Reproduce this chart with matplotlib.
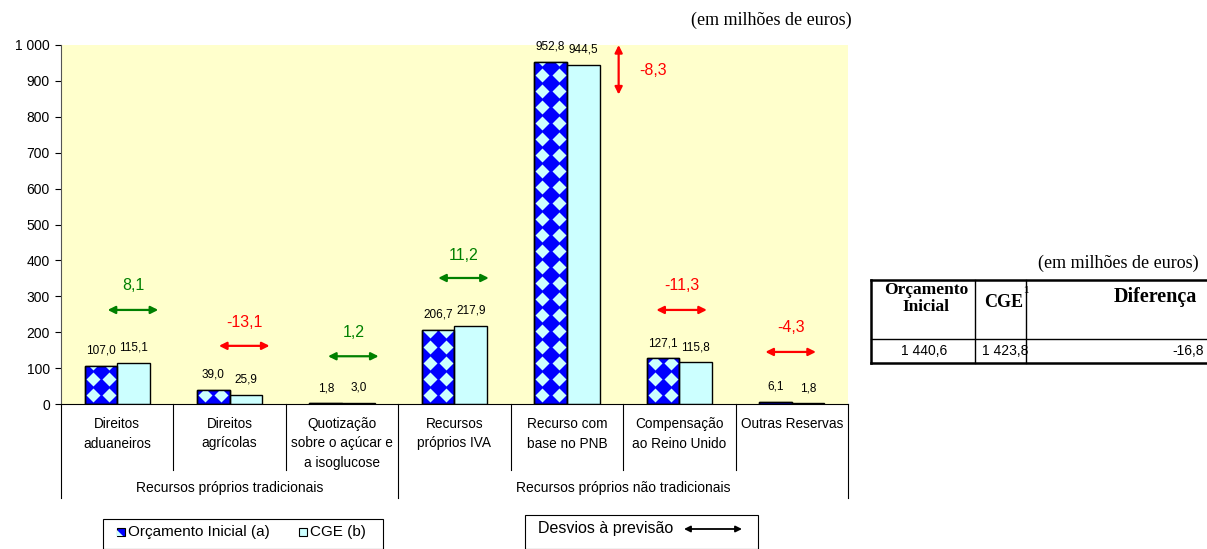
import matplotlib
matplotlib.use("Agg")
import matplotlib.pyplot as plt
import numpy as np
from matplotlib.patches import Rectangle, Polygon, FancyArrowPatch
from matplotlib.lines import Line2D
from matplotlib.transforms import blended_transform_factory

categorias = ["Direitos\naduaneiros", "Direitos\nagrícolas",
              "Quotização\nsobre o açúcar e\na isoglucose",
              "Recursos\npróprios IVA", "Recurso com\nbase no PNB",
              "Compensação\nao Reino Unido", "Outras Reservas"]
grupos = ["Recursos próprios tradicionais", "Recursos próprios não tradicionais"]
grupo_tamanho = [3, 4]
orcamento = [107.0, 39.0, 1.8, 206.7, 952.8, 127.1, 6.1]
cge = [115.1, 25.9, 3.0, 217.9, 944.5, 115.8, 1.8]
totais_cab = ["Orçamento\nInicial", "CGE", "Diferença"]
totais = ["1 440,6", "1 423,8", "-16,8"]
y_ticks = [0, 100, 200, 300, 400, 500, 600, 700, 800, 900, 1000]

# where each deviation arrow sits (y, x offset from category centre, label y)
arrow_y = [262, 162, 133, 351, None, 262, 145]
arrow_dx = [0.14, 0.13, 0.10, 0.08, 0.46, 0.02, -0.01]
label_y = [329, 228, 198, 415, 930, 329, 212]

W, H = 1207, 549
BLUE = "#0000FF"
CYAN = "#CCFFFF"
YELLOW = "#FFFFCC"
GREEN = "#008000"
RED = "#FF0000"
SANS = ["Liberation Sans", "DejaVu Sans"]
SERIF = ["Liberation Serif", "DejaVu Serif"]


def fmt(v):
    return f"{v:.1f}".replace(".", ",")


def px(x, y):
    return x / W, 1 - y / H


fig = plt.figure(figsize=(W / 100, H / 100), dpi=100)
plt.rcParams["font.family"] = SANS
ax = fig.add_axes([61 / W, 1 - 404 / H, (848 - 61) / W, (404 - 45) / H])
ax.set_facecolor(YELLOW)
ax.set_xlim(-0.5, len(categorias) - 0.5)
ax.set_ylim(0, 1000)

x = np.arange(len(categorias))
bw = 0.29
bars_a = ax.bar(x - bw / 2, orcamento, bw, color=BLUE, edgecolor="black", linewidth=1, zorder=2)
bars_b = ax.bar(x + bw / 2, cge, bw, color=CYAN, edgecolor="black", linewidth=1, zorder=2)

# diamond texture on the budget bars
for rect in bars_a:
    x0, w, h = rect.get_x(), rect.get_width(), rect.get_height()
    ys = np.arange(25, h + 45, 44.6)
    for cx in (x0 + 0.25 * w, x0 + 0.75 * w):
        ln, = ax.plot(np.full_like(ys, cx), ys, ls="none", marker="D", ms=7.0,
                      mfc=CYAN, mec="none", zorder=2.5)
        ln.set_clip_path(rect)
    ax.add_patch(Rectangle((x0, 0), w, h, fill=False, edgecolor="black", lw=1, zorder=3))

for i in range(len(categorias)):
    ax.annotate(fmt(orcamento[i]), (x[i] - bw / 2, orcamento[i]), xytext=(0, 11),
                textcoords="offset points", ha="center", va="center", fontsize=8.5)
    ax.annotate(fmt(cge[i]), (x[i] + bw / 2, cge[i]), xytext=(0, 11),
                textcoords="offset points", ha="center", va="center", fontsize=8.5)

# deviation arrows
for i in range(len(categorias)):
    d = round(cge[i] - orcamento[i], 1)
    col = GREEN if d >= 0 else RED
    cx = x[i] + arrow_dx[i]
    if arrow_y[i] is None:
        a = FancyArrowPatch((cx, 1000), (cx, 862), arrowstyle="<|-|>", mutation_scale=11,
                            color=col, lw=1.6, shrinkA=0, shrinkB=0, clip_on=False, zorder=4)
        ax.text(x[i] + 0.77, label_y[i], fmt(d), color=col, fontsize=11.5, ha="center", va="center")
    else:
        a = FancyArrowPatch((cx - 0.225, arrow_y[i]), (cx + 0.225, arrow_y[i]), arrowstyle="<|-|>",
                            mutation_scale=11, color=col, lw=1.6, shrinkA=0, shrinkB=0, zorder=4)
        ax.text(cx, label_y[i], fmt(d), color=col, fontsize=11.5, ha="center", va="center")
    ax.add_patch(a)

for s in ("top", "right"):
    ax.spines[s].set_visible(False)
ax.spines["left"].set_color("#555555")
ax.spines["bottom"].set_color("black")
ax.set_xticks([])
ax.set_yticks(y_ticks)
ax.set_yticklabels([f"{v:,}".replace(",", " ") for v in y_ticks], fontsize=10)
ax.tick_params(axis="y", length=4, width=0.8, pad=4)

# category table under the axis
tr = blended_transform_factory(ax.transData, fig.transFigure)
for b in np.arange(-0.5, len(categorias)):
    bottom = 498 if b in (-0.5, 2.5, 6.5) else 470
    fig.add_artist(Line2D([b, b], [1 - 404 / H, 1 - bottom / H], transform=tr,
                          color="black", lw=0.8))
for i, lab in enumerate(categorias):
    ax.text(x[i], 1 - 417 / H, lab, transform=tr, ha="center", va="top",
            fontsize=9.8, linespacing=1.5)
start = 0
for g, n in zip(grupos, grupo_tamanho):
    ax.text(start - 0.5 + n / 2, 1 - 488 / H, g, transform=tr, ha="center", va="center",
            fontsize=10)
    start += n

# legends
fig.add_artist(Rectangle(px(103, 549), 280 / W, 30 / H, transform=fig.transFigure,
                         fill=False, edgecolor="black", lw=0.8))
sq_x, sq_y = px(117, 536)
fig.add_artist(Rectangle((sq_x, sq_y), 8 / W, 8 / H, transform=fig.transFigure,
                         facecolor=BLUE, edgecolor="black", lw=0.8))
fig.add_artist(Polygon([(sq_x, sq_y), (sq_x + 6 / W, sq_y), (sq_x, sq_y + 6 / H)],
                       transform=fig.transFigure, facecolor=CYAN, edgecolor="none"))
fig.text(*px(128, 532), "Orçamento Inicial (a)", fontsize=11, va="center")
fig.add_artist(Rectangle(px(299, 536), 8 / W, 8 / H, transform=fig.transFigure,
                         facecolor=CYAN, edgecolor="black", lw=0.8))
fig.text(*px(310, 532), "CGE (b)", fontsize=11, va="center")

fig.add_artist(Rectangle(px(525, 549), 233 / W, 34 / H, transform=fig.transFigure,
                         fill=False, edgecolor="black", lw=0.8))
fig.text(*px(538, 529), "Desvios à previsão", fontsize=11.5, va="center")
fig.add_artist(FancyArrowPatch(px(684, 529), px(742, 529), transform=fig.transFigure,
                               arrowstyle="<|-|>", mutation_scale=9, color="black", lw=1.3,
                               shrinkA=0, shrinkB=0))

fig.text(*px(852, 20), "(em milhões de euros)", family=SERIF, fontsize=13, ha="right", va="center")

# totals table
fig.text(*px(1199, 263), "(em milhões de euros)", family=SERIF, fontsize=13, ha="right", va="center")
for yy, lw in ((280, 1.8), (339, 1.0), (363, 1.8)):
    fig.add_artist(Line2D([871 / W, 1.0], [1 - yy / H] * 2, transform=fig.transFigure,
                          color="black", lw=lw))
for xx, lw in ((871, 1.8), (975, 1.0), (1026, 1.0)):
    fig.add_artist(Line2D([xx / W] * 2, [1 - 280 / H, 1 - 363 / H], transform=fig.transFigure,
                          color="black", lw=lw))
for line, base in zip(totais_cab[0].split("\n"), (294, 311)):
    fig.text(*px(926, base), line, family=SERIF, fontsize=12.5, fontweight="bold",
             ha="center", va="baseline")
fig.text(*px(1004, 307), totais_cab[1], family=SERIF, fontsize=13, fontweight="bold",
         ha="center", va="baseline")
fig.text(*px(1023, 293), "1", family=SERIF, fontsize=7.5, fontweight="bold",
         ha="left", va="baseline")
fig.text(*px(1114, 302), totais_cab[2], family=SERIF, fontsize=14.5, fontweight="bold",
         ha="left", va="baseline")
for xx, t in zip((924, 1005, 1204), totais):
    fig.text(*px(xx, 355), t, fontsize=10, ha="right" if xx > 1100 else "center",
             va="baseline")

fig.savefig("out.png", dpi=100)
